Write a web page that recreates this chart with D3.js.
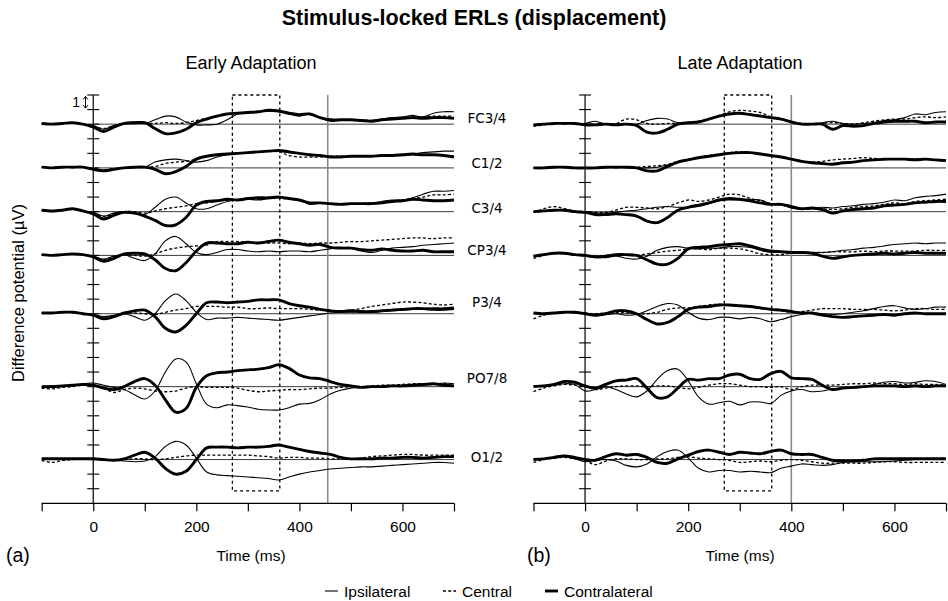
<!DOCTYPE html>
<html><head><meta charset="utf-8">
<script src="https://cdn.jsdelivr.net/npm/d3@7/dist/d3.min.js"></script>
<style>body{margin:0;background:#fff}svg{display:block}</style>
</head><body>
<svg id="c" width="948" height="601"></svg>
<script>
// ---------------- DATA ----------------
const times = [-100,-80,-60,-40,-20,0,20,40,60,80,100,120,140,160,180,200,220,240,260,280,300,320,340,360,380,400,420,440,460,480,500,520,540,560,580,600,620,640,660,680,700];
const channels = ["FC3/4","C1/2","C3/4","CP3/4","P3/4","PO7/8","O1/2"];
const seriesNames = ["Ipsilateral","Central","Contralateral"];
const xTicks = [-100,0,100,200,300,400,500,600,700];
const xTickLabels = [0,200,400,600];
const responseLine = [455, 400];      // ms, early / late
const analysisWindow = [270, 362];    // ms

// Early adaptation (µV), one row per channel
const earlyIpsilateral = [
 [0.05,0.0,0.05,0.1,0.0,-0.1,-0.35,-0.1,0.05,0.15,0.05,0.3,0.55,0.5,0.15,-0.05,-0.05,0.0,0.3,0.7,0.8,0.85,0.9,0.9,0.7,0.55,0.75,0.45,0.2,0.25,0.3,0.3,0.25,0.35,0.45,0.5,0.6,0.5,0.75,0.85,0.85],
 [0.05,0.0,0.05,0.05,0.05,-0.05,-0.15,-0.05,0.0,0.05,0.05,0.4,0.55,0.6,0.5,0.4,0.5,0.75,0.9,1.0,1.05,1.1,1.15,1.15,1.05,1.0,0.9,0.85,0.8,0.8,0.8,0.8,0.8,0.8,0.85,0.9,0.95,1.05,1.1,1.15,1.15],
 [0.1,0.05,0.1,0.2,0.05,-0.05,-0.3,-0.1,0.0,-0.1,-0.2,0.3,0.85,1.0,0.6,0.2,0.2,0.45,0.7,0.8,0.85,0.8,0.9,1.0,0.9,0.8,0.5,0.6,0.55,0.5,0.5,0.55,0.6,0.7,0.8,0.8,0.95,1.2,1.4,1.4,1.45],
 [0.05,0.0,0.05,0.1,0.05,-0.05,-0.25,-0.05,0.05,-0.2,-0.35,0.1,1.0,1.3,0.8,0.2,0.05,0.2,0.4,0.4,0.3,0.25,0.3,0.25,0.3,0.3,0.25,0.35,0.45,0.55,0.5,0.3,0.2,0.35,0.5,0.55,0.6,0.7,0.75,0.8,0.85],
 [0.05,0.05,0.1,0.1,0.0,-0.05,-0.2,-0.1,0.0,-0.2,-0.45,0.0,0.9,1.35,0.9,0.1,-0.4,-0.3,-0.3,-0.25,-0.3,-0.35,-0.4,-0.45,-0.35,-0.25,-0.15,-0.05,0.05,0.1,0.1,0.15,0.1,0.15,0.2,0.25,0.3,0.35,0.4,0.4,0.45],
 [0.0,0.05,0.0,0.05,0.2,0.25,0.1,-0.05,-0.2,-0.55,-0.85,-0.3,1.0,1.9,1.7,0.2,-1.2,-1.45,-1.25,-1.3,-1.4,-1.55,-1.6,-1.6,-1.45,-1.2,-1.15,-0.9,-0.5,-0.25,-0.1,-0.05,0.0,0.0,0.05,0.1,0.1,0.1,0.15,0.25,0.2],
 [0.05,0.05,0.0,0.0,0.05,0.05,0.0,-0.05,-0.1,-0.15,-0.1,0.2,0.9,1.25,1.0,0.1,-0.85,-1.05,-1.1,-1.15,-1.2,-1.25,-1.3,-1.4,-1.2,-1.0,-0.85,-0.75,-0.65,-0.6,-0.55,-0.5,-0.5,-0.45,-0.4,-0.35,-0.3,-0.25,-0.2,-0.2,-0.25]
];
const earlyCentral = [
 [0.05,0.0,0.05,0.1,0.0,-0.15,-0.3,-0.1,0.05,0.1,0.05,0.05,0.1,0.05,0.1,0.25,0.4,0.55,0.7,0.75,0.8,0.85,0.9,0.85,0.75,0.6,0.7,0.45,0.25,0.3,0.3,0.3,0.25,0.3,0.4,0.45,0.5,0.5,0.55,0.55,0.55],
 [0.05,0.0,0.05,0.05,0.05,-0.05,-0.15,-0.05,0.0,0.05,0.05,0.1,0.3,0.4,0.45,0.6,0.8,0.9,0.95,1.0,1.05,1.1,1.15,1.1,0.85,0.75,0.75,0.75,0.8,0.8,0.8,0.8,0.8,0.85,0.85,0.85,0.9,0.9,0.9,0.85,0.85],
 [0.1,0.05,0.1,0.2,0.05,-0.1,-0.35,-0.15,0.0,0.0,-0.1,0.05,0.2,0.3,0.4,0.55,0.6,0.7,0.8,0.8,0.85,0.85,0.9,0.95,0.85,0.8,0.6,0.6,0.55,0.5,0.5,0.55,0.55,0.6,0.75,0.8,0.9,1.0,1.15,1.15,1.2],
 [0.05,0.0,0.05,0.1,0.05,-0.1,-0.3,-0.1,0.05,0.0,-0.05,0.1,0.35,0.5,0.6,0.65,0.7,0.95,0.95,0.95,0.9,0.85,0.85,0.85,0.8,0.85,0.8,0.85,0.85,0.9,0.95,0.95,1.0,1.05,1.1,1.15,1.2,1.2,1.15,1.2,1.2],
 [0.05,0.05,0.1,0.1,0.0,-0.1,-0.3,-0.15,0.0,0.05,0.0,-0.05,0.1,0.25,0.35,0.5,0.5,0.5,0.45,0.45,0.35,0.35,0.4,0.35,0.35,0.35,0.3,0.25,0.2,0.2,0.25,0.35,0.5,0.6,0.7,0.8,0.8,0.75,0.65,0.6,0.65],
 [-0.1,-0.15,-0.05,0.0,0.1,0.05,-0.1,-0.4,-0.2,-0.1,-0.15,-0.3,-0.35,-0.3,-0.1,0.0,-0.05,-0.05,-0.05,-0.1,-0.25,-0.35,-0.3,-0.25,-0.2,-0.2,-0.15,-0.1,-0.1,-0.05,0.0,0.0,0.05,0.1,0.1,0.15,0.2,0.2,0.2,0.2,0.2],
 [-0.05,-0.2,-0.05,0.0,0.05,0.05,-0.05,-0.05,0.0,0.05,0.05,0.0,0.05,0.15,0.25,0.3,0.3,0.3,0.3,0.3,0.3,0.25,0.2,0.1,0.15,0.15,0.1,0.1,0.05,0.05,0.05,0.1,0.2,0.25,0.3,0.35,0.35,0.3,0.3,0.3,0.3]
];
const earlyContralateral = [
 [0.05,0.0,0.05,0.1,0.0,-0.2,-0.5,-0.2,0.05,0.1,0.1,-0.3,-0.65,-0.6,-0.35,0.1,0.35,0.55,0.7,0.75,0.8,0.85,0.95,0.9,0.75,0.65,0.7,0.45,0.3,0.3,0.3,0.25,0.2,0.3,0.35,0.4,0.45,0.4,0.45,0.45,0.4],
 [0.05,0.0,0.05,0.05,0.05,-0.1,-0.2,-0.1,0.0,0.05,0.05,-0.1,-0.4,-0.25,0.1,0.6,0.8,0.9,0.95,1.0,1.05,1.1,1.15,1.2,1.1,1.0,0.9,0.85,0.75,0.75,0.8,0.8,0.8,0.85,0.85,0.9,0.95,0.9,0.9,0.85,0.75],
 [0.1,0.05,0.1,0.2,0.05,-0.15,-0.5,-0.25,-0.05,-0.1,-0.3,-0.6,-0.95,-0.9,-0.4,0.45,0.7,0.75,0.85,0.8,0.9,0.95,0.95,1.0,0.9,0.8,0.6,0.6,0.55,0.5,0.55,0.55,0.55,0.6,0.7,0.75,0.85,0.8,0.75,0.75,0.8],
 [0.05,0.0,0.05,0.1,0.05,-0.1,-0.4,-0.2,0.1,0.15,0.1,-0.3,-0.9,-1.05,-0.5,0.3,0.85,0.85,0.8,0.8,0.9,0.85,0.95,1.05,0.9,0.8,0.7,0.75,0.55,0.5,0.5,0.4,0.35,0.45,0.35,0.3,0.3,0.35,0.25,0.25,0.25],
 [0.05,0.05,0.1,0.1,0.0,-0.1,-0.35,-0.2,0.05,0.2,0.25,-0.2,-1.0,-1.25,-0.8,0.0,0.75,0.8,0.75,0.8,0.85,0.95,0.95,0.95,0.7,0.55,0.45,0.3,0.2,0.15,0.2,0.15,0.15,0.2,0.25,0.3,0.35,0.35,0.3,0.3,0.35],
 [0.0,0.0,0.05,0.1,0.15,0.1,-0.1,-0.2,0.0,0.35,0.55,0.1,-0.9,-1.75,-1.5,-0.05,0.75,0.95,1.0,1.1,1.15,1.2,1.3,1.5,1.25,0.8,0.6,0.55,0.35,0.15,0.05,-0.05,0.0,0.0,0.05,0.05,0.1,0.15,0.2,0.1,0.05],
 [0.05,0.05,0.05,0.05,0.05,0.05,0.0,-0.05,0.05,0.3,0.5,0.1,-0.6,-1.0,-0.8,0.0,0.8,0.85,0.85,0.8,0.85,0.85,0.9,1.0,0.85,0.7,0.55,0.45,0.35,0.15,0.05,0.05,0.05,0.1,0.1,0.15,0.15,0.1,0.15,0.2,0.2]
];

// Late adaptation (µV)
const lateIpsilateral = [
 [-0.05,0.0,0.05,0.05,0.0,0.05,0.2,0.0,0.0,0.05,0.0,0.25,0.4,0.35,0.1,0.05,0.15,0.35,0.55,0.7,0.75,0.7,0.6,0.45,0.35,0.15,0.0,0.0,0.1,0.2,0.05,0.0,0.05,0.1,0.25,0.3,0.45,0.7,0.65,0.8,0.85],
 [0.0,0.0,0.05,0.05,0.0,0.0,0.0,0.05,0.05,0.05,0.0,0.0,0.05,0.2,0.4,0.55,0.7,0.8,0.9,1.0,1.05,1.05,0.95,0.85,0.75,0.6,0.45,0.35,0.3,0.3,0.35,0.4,0.5,0.55,0.55,0.6,0.6,0.6,0.6,0.55,0.55],
 [0.0,0.05,0.15,0.1,0.0,-0.05,-0.1,-0.1,-0.05,0.05,0.1,0.2,0.3,0.35,0.3,0.3,0.35,0.55,0.75,0.8,0.8,0.85,0.8,0.55,0.55,0.25,0.15,0.2,0.3,0.25,0.35,0.4,0.5,0.55,0.65,0.8,0.75,0.95,1.05,1.1,1.2],
 [-0.05,0.05,0.15,0.15,0.05,-0.05,-0.15,-0.15,-0.05,-0.2,-0.25,-0.05,0.35,0.55,0.6,0.5,0.45,0.5,0.5,0.6,0.6,0.55,0.35,0.2,0.25,0.2,0.15,0.2,0.2,0.25,0.35,0.4,0.5,0.55,0.65,0.75,0.8,0.85,0.8,0.85,0.85],
 [0.0,0.0,0.05,0.1,0.05,0.0,-0.05,-0.05,0.0,-0.1,-0.05,0.2,0.5,0.7,0.6,0.1,-0.3,-0.4,-0.25,-0.25,-0.35,-0.25,-0.35,-0.55,-0.4,-0.2,-0.05,0.05,0.0,-0.05,0.0,0.1,0.2,0.35,0.5,0.55,0.4,0.3,0.35,0.45,0.45],
 [0.05,0.0,0.1,0.2,0.15,-0.3,-0.2,0.0,-0.2,-0.5,-0.7,-0.3,0.5,1.1,1.2,0.4,-0.7,-1.2,-1.1,-1.0,-1.25,-1.05,-1.05,-1.15,-0.6,-0.3,-0.2,-0.35,-0.3,-0.15,-0.1,-0.1,0.0,0.15,0.3,0.35,0.25,0.3,0.4,0.35,0.15],
 [0.0,0.05,0.1,0.2,0.05,-0.15,-0.05,0.0,-0.1,-0.4,-0.5,-0.3,0.2,0.55,0.65,0.1,-0.6,-0.85,-0.75,-0.75,-0.85,-0.8,-0.85,-0.9,-0.6,-0.45,-0.3,-0.35,-0.4,-0.35,-0.2,-0.15,-0.15,-0.15,-0.15,-0.1,-0.05,0.0,0.05,0.05,0.05]
];
const lateCentral = [
 [-0.15,-0.05,0.05,0.05,0.05,0.0,0.0,0.0,0.05,0.35,0.3,0.05,0.0,0.05,0.05,0.1,0.2,0.35,0.6,0.85,0.95,0.9,0.8,0.5,0.35,0.15,0.05,0.0,0.05,0.1,0.05,0.0,0.1,0.2,0.3,0.35,0.35,0.45,0.5,0.45,0.5],
 [0.0,0.0,0.05,0.05,0.0,0.0,0.0,0.05,0.05,0.05,0.05,0.1,0.15,0.25,0.45,0.6,0.75,0.85,0.95,1.05,1.1,1.05,0.95,0.85,0.75,0.6,0.45,0.4,0.45,0.55,0.6,0.65,0.7,0.65,0.6,0.6,0.6,0.6,0.6,0.55,0.55],
 [-0.05,0.2,0.35,0.2,0.05,0.0,-0.05,-0.05,0.1,0.3,0.3,0.25,0.2,0.35,0.6,0.8,0.7,0.8,1.0,1.2,1.15,0.9,0.75,0.55,0.45,0.3,0.2,0.2,0.2,0.15,0.2,0.3,0.35,0.4,0.5,0.6,0.55,0.7,0.75,0.8,0.85],
 [-0.2,0.0,0.15,0.1,0.05,0.0,-0.05,0.0,0.05,0.0,0.0,0.1,0.2,0.3,0.35,0.45,0.45,0.4,0.5,0.5,0.45,0.3,0.1,0.05,0.05,0.15,0.15,0.2,0.2,0.25,0.25,0.25,0.3,0.25,0.3,0.3,0.3,0.3,0.35,0.35,0.35],
 [-0.35,-0.1,0.05,0.1,0.05,0.05,0.0,0.05,0.1,0.05,0.0,0.0,0.1,0.3,0.4,0.4,0.5,0.6,0.65,0.6,0.55,0.45,0.35,0.3,0.2,0.1,0.15,0.25,0.35,0.35,0.35,0.3,0.3,0.3,0.25,0.2,0.25,0.35,0.35,0.3,0.3],
 [-0.35,-0.1,0.05,0.15,0.1,0.0,-0.2,-0.1,0.0,0.05,0.05,0.0,0.05,0.05,-0.05,-0.15,-0.05,0.1,0.2,0.2,0.1,0.0,0.0,-0.05,0.0,-0.2,0.0,0.1,0.1,0.1,0.15,0.2,0.2,0.25,0.2,0.2,0.15,0.2,0.15,0.15,0.1],
 [-0.2,0.0,0.1,0.15,0.05,-0.05,-0.35,-0.1,0.05,0.05,0.0,0.0,0.05,0.05,0.15,0.2,0.1,0.05,0.0,-0.05,-0.2,-0.15,-0.1,-0.15,-0.05,0.0,-0.05,-0.15,-0.25,-0.25,-0.25,-0.25,-0.25,-0.2,-0.15,-0.15,-0.2,-0.2,-0.2,-0.2,-0.2]
];
const lateContralateral = [
 [-0.05,0.0,0.05,0.05,0.05,-0.05,-0.05,0.0,-0.05,0.0,-0.1,-0.55,-0.6,-0.35,0.0,0.1,0.15,0.35,0.55,0.7,0.75,0.65,0.55,0.45,0.35,0.15,0.0,0.0,0.0,-0.35,-0.1,-0.15,-0.1,0.05,0.15,0.2,0.2,0.2,0.1,0.15,0.15],
 [0.0,0.0,0.05,0.05,0.0,0.0,0.0,0.05,0.05,0.05,0.0,-0.2,-0.2,0.1,0.4,0.55,0.7,0.8,0.9,1.0,1.05,1.05,0.95,0.85,0.75,0.6,0.45,0.35,0.3,0.25,0.35,0.4,0.5,0.55,0.6,0.6,0.6,0.55,0.6,0.55,0.5],
 [0.0,0.05,0.1,0.1,0.0,-0.05,-0.2,-0.2,-0.15,-0.2,-0.3,-0.65,-0.75,-0.4,0.1,0.3,0.45,0.6,0.8,0.9,0.85,0.75,0.6,0.5,0.5,0.35,0.2,0.25,0.15,-0.1,0.05,0.15,0.2,0.25,0.4,0.45,0.5,0.6,0.65,0.7,0.7],
 [-0.05,0.05,0.15,0.15,0.05,0.0,-0.1,-0.05,0.05,0.05,0.0,-0.3,-0.6,-0.6,-0.2,0.45,0.55,0.6,0.7,0.75,0.8,0.65,0.45,0.3,0.25,0.2,0.2,0.15,-0.05,-0.2,-0.1,0.0,0.05,0.1,0.15,0.1,0.15,0.2,0.15,0.15,0.15],
 [0.05,0.0,0.05,0.1,0.1,0.0,-0.1,0.0,0.2,0.2,0.0,-0.4,-0.7,-0.6,-0.2,0.3,0.45,0.5,0.6,0.6,0.55,0.5,0.4,0.3,0.25,0.15,0.05,0.05,-0.1,-0.2,-0.25,-0.2,-0.15,-0.1,-0.05,-0.1,0.0,0.05,0.0,0.0,0.0],
 [0.0,0.05,0.15,0.35,0.3,0.05,-0.1,0.15,0.4,0.45,0.55,-0.1,-0.75,-0.7,-0.1,0.5,0.45,0.55,0.55,0.8,0.85,0.55,0.5,0.9,1.05,0.6,0.55,0.5,0.1,-0.2,-0.1,-0.05,0.0,0.05,0.05,0.05,0.0,0.05,0.0,0.05,0.05],
 [0.0,0.05,0.15,0.25,0.15,0.0,-0.05,0.2,0.4,0.3,0.35,0.15,-0.2,-0.25,0.05,0.3,0.55,0.65,0.5,0.35,0.5,0.45,0.4,0.55,0.65,0.4,0.35,0.35,0.15,-0.05,-0.1,-0.1,-0.05,0.05,0.05,0.05,0.05,0.05,0.05,0.05,0.05]
];

// ---------------- LAYOUT ----------------
const svg = d3.select("#c");
const FONT = "'Liberation Sans', Arial, Helvetica, sans-serif";
const channelOffset = [0,-3,-6,-9,-13,-18,-23];         // stacking position (µV units)
const labelLift = [0.41,0.34,0.23,0.39,0.8,0.58,0.18];   // label placement above baseline
const y = d3.scaleLinear().domain([2,-26]).range([95,503.3]);

const panels = [
  {title:"Early Adaptation", letter:"(a)", range:[41.7,454], rt:responseLine[0],
   data:[earlyIpsilateral, earlyCentral, earlyContralateral], titleX:251, letterX:6, labels:true},
  {title:"Late Adaptation", letter:"(b)", range:[533.5,946], rt:responseLine[1],
   data:[lateIpsilateral, lateCentral, lateContralateral], titleX:740, letterX:527, labels:false}
];
const styles = [
  {w:1.1, dash:null},
  {w:1.3, dash:"3,2.2"},
  {w:2.9, dash:null}
];

svg.append("text").attr("x",474).attr("y",18).attr("text-anchor","middle")
  .attr("dominant-baseline","central").attr("font-family",FONT).attr("font-weight","bold")
  .attr("font-size",21.5).text("Stimulus-locked ERLs (displacement)");

svg.append("text").attr("transform","translate(18,293) rotate(-90)").attr("text-anchor","middle")
  .attr("dominant-baseline","central").attr("font-family",FONT).attr("font-size",16.5)
  .text("Difference potential (µV)");

panels.forEach(p => {
  const x = d3.scaleLinear().domain([-100,700]).range(p.range);
  const g = svg.append("g");
  const x0 = x(0);

  g.append("text").attr("x",p.titleX).attr("y",63).attr("text-anchor","middle")
    .attr("dominant-baseline","central").attr("font-family",FONT).attr("font-size",18).text(p.title);

  // zero lines
  channelOffset.forEach(off => {
    g.append("line").attr("x1",x0).attr("x2",x(700)).attr("y1",y(off)).attr("y2",y(off))
      .attr("stroke","#3a3a3a").attr("stroke-width",1);
  });

  // analysis window box
  g.append("rect").attr("x",x(analysisWindow[0])).attr("y",y(2))
    .attr("width",x(analysisWindow[1])-x(analysisWindow[0])).attr("height",y(-25.15)-y(2))
    .attr("fill","none").attr("stroke","#000").attr("stroke-width",1.3).attr("stroke-dasharray","3,3");

  // response line
  g.append("line").attr("x1",x(p.rt)).attr("x2",x(p.rt)).attr("y1",y(2)).attr("y2",y(-26))
    .attr("stroke","#8a8a8a").attr("stroke-width",1.6);

  // y axis with ticks
  g.append("line").attr("x1",x0).attr("x2",x0).attr("y1",y(2)).attr("y2",y(-26))
    .attr("stroke","#000").attr("stroke-width",1.2);
  d3.range(-25,3).forEach(v => {
    g.append("line").attr("x1",x0-6).attr("x2",x0+6).attr("y1",y(v)).attr("y2",y(v))
      .attr("stroke","#000").attr("stroke-width",1.1);
  });

  // x axis
  const ax = g.append("g").attr("transform",`translate(0,${y(-26)})`)
    .call(d3.axisBottom(x).tickValues(xTicks).tickSize(8).tickPadding(10)
      .tickFormat(d => xTickLabels.includes(d) ? d : ""));
  ax.select(".domain").attr("stroke","#000").attr("stroke-width",1.2).attr("d",`M${x(-100)},0H${x(700)}`);
  ax.selectAll(".tick line").attr("stroke","#000").attr("stroke-width",1.2);
  ax.selectAll(".tick text").attr("font-family",FONT).attr("font-size",15.5).attr("fill","#000");

  g.append("text").attr("x",p.titleX).attr("y",555).attr("text-anchor","middle")
    .attr("dominant-baseline","central").attr("font-family",FONT).attr("font-size",15.5).text("Time (ms)");
  g.append("text").attr("x",p.letterX).attr("y",555)
    .attr("dominant-baseline","central").attr("font-family",FONT).attr("font-size",19.5).text(p.letter);

  // traces
  const line = d3.line().curve(d3.curveCatmullRom.alpha(0.5));
  [1,0,2].forEach(si => {
    p.data[si].forEach((vals, ci) => {
      const pts = times.map((t,i) => [x(t), y(channelOffset[ci] + vals[i])]);
      g.append("path").attr("d",line(pts)).attr("fill","none").attr("stroke","#000")
        .attr("stroke-width",styles[si].w).attr("stroke-dasharray",styles[si].dash)
        .attr("stroke-linejoin","round");
    });
  });

  if (p.labels) {
    channels.forEach((c,ci) => {
      g.append("text").attr("x",487).attr("y",y(channelOffset[ci]+labelLift[ci]))
        .attr("text-anchor","middle").attr("dominant-baseline","central")
        .attr("font-family","'DejaVu Sans', Verdana, sans-serif").attr("font-size",13.5).text(c);
    });
    // 1 µV scale mark
    g.append("text").attr("x",80).attr("y",(y(2)+y(1))/2).attr("text-anchor","end")
      .attr("dominant-baseline","central").attr("font-family",FONT).attr("font-size",14).text("1");
    const ax0 = 85.5, ya = y(2)+1.5, yb = y(1)-1.5;
    g.append("path").attr("d",`M${ax0},${ya}V${yb}M${ax0-2.5},${ya+3}L${ax0},${ya}L${ax0+2.5},${ya+3}M${ax0-2.5},${yb-3}L${ax0},${yb}L${ax0+2.5},${yb-3}`)
      .attr("fill","none").attr("stroke","#000").attr("stroke-width",1);
  }
});

// legend
const legend = [
  {x:325, label:seriesNames[0], s:styles[0]},
  {x:443, label:seriesNames[1], s:styles[1]},
  {x:545, label:seriesNames[2], s:styles[2]}
];
legend.forEach(l => {
  svg.append("line").attr("x1",l.x).attr("x2",l.x+13).attr("y1",591).attr("y2",591)
    .attr("stroke","#000").attr("stroke-width",l.s.w).attr("stroke-dasharray",l.s.dash);
  svg.append("text").attr("x",l.x+19).attr("y",591).attr("dominant-baseline","central")
    .attr("font-family",FONT).attr("font-size",15.5).text(l.label);
});
</script>
</body></html>
